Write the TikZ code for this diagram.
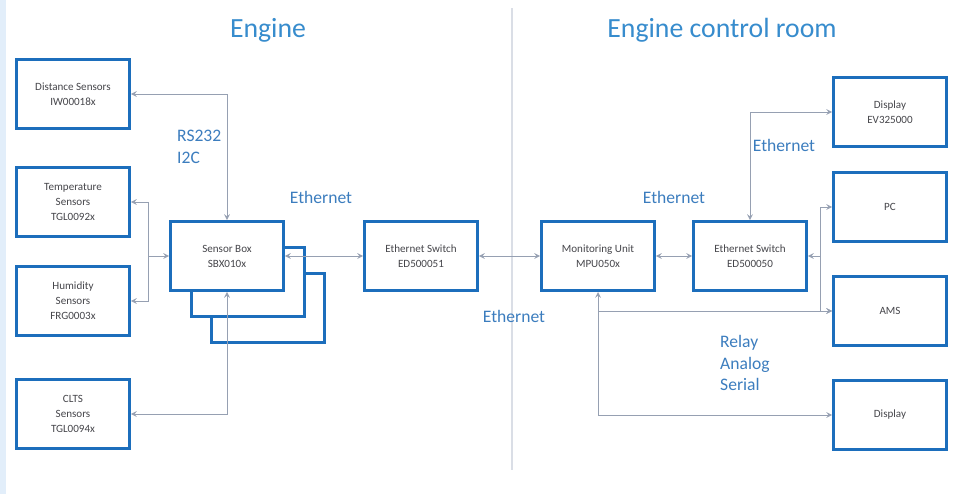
\documentclass[tikz,border=0pt]{standalone}
\usepackage{fontspec}
\setmainfont{Carlito}
\definecolor{ecBlue}{RGB}{28,110,188}
\definecolor{ecText}{RGB}{70,70,75}
\definecolor{ecLabel}{RGB}{60,125,190}
\definecolor{ecTitle}{RGB}{55,140,205}
\definecolor{ecGrey}{RGB}{150,160,178}
\definecolor{ecRule}{RGB}{218,222,230}
\definecolor{ecStrip}{RGB}{226,238,250}
\begin{document}
\begin{tikzpicture}[x=0.02cm, y=-0.02cm, unit/.style={draw=ecBlue, line width=1.7pt, fill=white, minimum width=2.26cm, minimum height=1.38cm, inner sep=1pt, align=center, font=\fontsize{6.3}{8.5}\selectfont, text=ecText}, link/.style={<->, >=stealth, line width=0.45pt, ecGrey}, feed/.style={->, >=stealth, line width=0.45pt, ecGrey}, bus/.style={font=\fontsize{10}{12.2}\selectfont, text=ecLabel, align=left}, title/.style={font=\fontsize{15.8}{18}\selectfont, text=ecTitle}, divider/.style={line width=0.8pt, ecRule}]
\useasboundingbox (0,0) rectangle (964,494);
\fill[ecStrip] (0,0) rectangle (6,494);
\draw[divider] (512,8) -- (512,470);
% titles
\node[title] (engT) at (268,30) {Engine};
\node[title] (ecrT) at (722,30) {Engine control room};
% engine side
\node[unit] (dist) at (73,94) {Distance Sensors\\IW00018x};
\node[unit] (temp) at (73,202) {Temperature\\Sensors\\TGL0092x};
\node[unit] (hum) at (73,301) {Humidity\\Sensors\\FRG0003x};
\node[unit] (clts) at (73,414) {CLTS\\Sensors\\TGL0094x};
\node[unit] (sbox3) at (268,308) {};
\node[unit] (sbox2) at (248,282) {};
\node[unit] (sbox) at (227,256) {Sensor Box\\SBX010x};
\node[unit] (esw1) at (421,256) {Ethernet Switch\\ED500051};
% control room side
\node[unit] (mon) at (598,256) {Monitoring Unit\\MPU050x};
\node[unit] (esw2) at (750,256) {Ethernet Switch\\ED500050};
\node[unit] (disp1) at (890,112) {Display\\EV325000};
\node[unit] (pc) at (890,207) {PC};
\node[unit] (ams) at (890,311) {AMS};
\node[unit] (disp2) at (890,415) {Display};
% connectors
\coordinate (thj) at (148,256);
\coordinate (pcj) at (820,256);
\coordinate (amsj) at (598,311);
\draw[link] (sbox.north) |- (dist.east);
\draw[link] (sbox.west) -- (thj) |- (temp.east);
\draw[feed] (thj) |- (hum.east);
\draw[link] (sbox.south) |- (clts.east);
\draw[link] (sbox.east) -- (esw1.west);
\draw[link] (esw1.east) -- (mon.west);
\draw[link] (mon.east) -- (esw2.west);
\draw[link] (esw2.north) |- (disp1.west);
\draw[link] (esw2.east) -- (pcj) |- (pc.west);
\draw[feed] (pcj) |- (ams.west);
\draw[link] (mon.south) |- (disp2.west);
\draw[feed] (amsj) -- (ams.west);
% bus labels
\node[bus, anchor=west] (rsLbl) at (171,147) {RS232\\I2C};
\node[bus] (ethA) at (321,197) {Ethernet};
\node[bus] (ethB) at (514,316) {Ethernet};
\node[bus] (ethC) at (674,197) {Ethernet};
\node[bus] (ethD) at (784,145) {Ethernet};
\node[bus, anchor=west] (relay) at (714,363) {Relay\\Analog\\Serial};
\end{tikzpicture}
\end{document}
